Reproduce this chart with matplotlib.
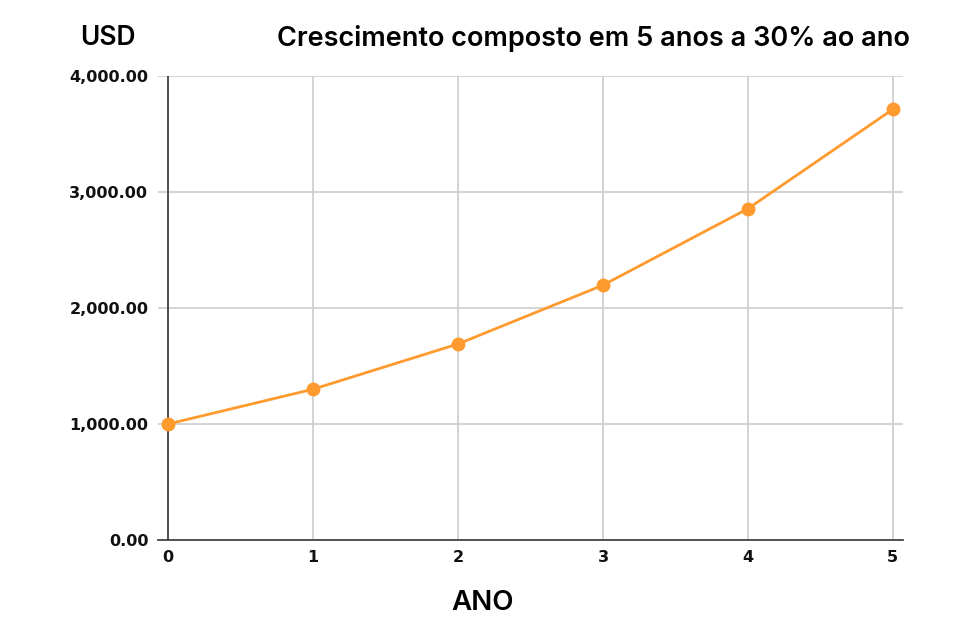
import matplotlib.pyplot as plt
from matplotlib.ticker import FuncFormatter

anos = [0, 1, 2, 3, 4, 5]
valores = [1000.00, 1300.00, 1690.00, 2197.00, 2856.10, 3712.93]
y_ticks = [0, 1000, 2000, 3000, 4000]

fig = plt.figure(figsize=(9.65, 6.32), dpi=100)
ax = fig.add_axes([158/965, 1-540/632, (903-158)/965, (540-76)/632])

ax.plot(anos, valores, color="#FF9A2E", linewidth=2.0, marker="o",
        markersize=9, zorder=3, clip_on=False)

ax.set_xlim(-0.07, 5.07)
ax.set_ylim(0, 4000)
ax.set_xticks(anos)
ax.set_yticks(y_ticks)
ax.yaxis.set_major_formatter(FuncFormatter(lambda v, p: "{:,.2f}".format(v)))

ax.grid(True, color="#cccccc", linewidth=1.2)
ax.set_axisbelow(True)
for s in ["top", "right", "left"]:
    ax.spines[s].set_visible(False)
ax.spines["bottom"].set_color("#444444")
ax.spines["bottom"].set_linewidth(1.3)
ax.axvline(0, color="#444444", linewidth=1.3, zorder=2)
ax.tick_params(axis="both", length=0, labelsize=11.5, pad=7)
for lab in ax.get_xticklabels() + ax.get_yticklabels():
    lab.set_fontweight("bold")
    lab.set_family("DejaVu Sans")
    lab.set_color("#111111")

fig.text(80/965, 1-38/632, "USD", fontsize=19, family="Inter", fontweight="semibold",
         va="center", ha="left")
fig.text(910/965, 1-38/632, "Crescimento composto em 5 anos a 30% ao ano", fontsize=19.5,
         family="Inter", fontweight="semibold", va="center", ha="right")
fig.text(483/965, 1-603/632, "ANO", fontsize=20, family="Inter", fontweight="semibold",
         va="center", ha="center")

fig.savefig("out.png", dpi=100, facecolor="white")
